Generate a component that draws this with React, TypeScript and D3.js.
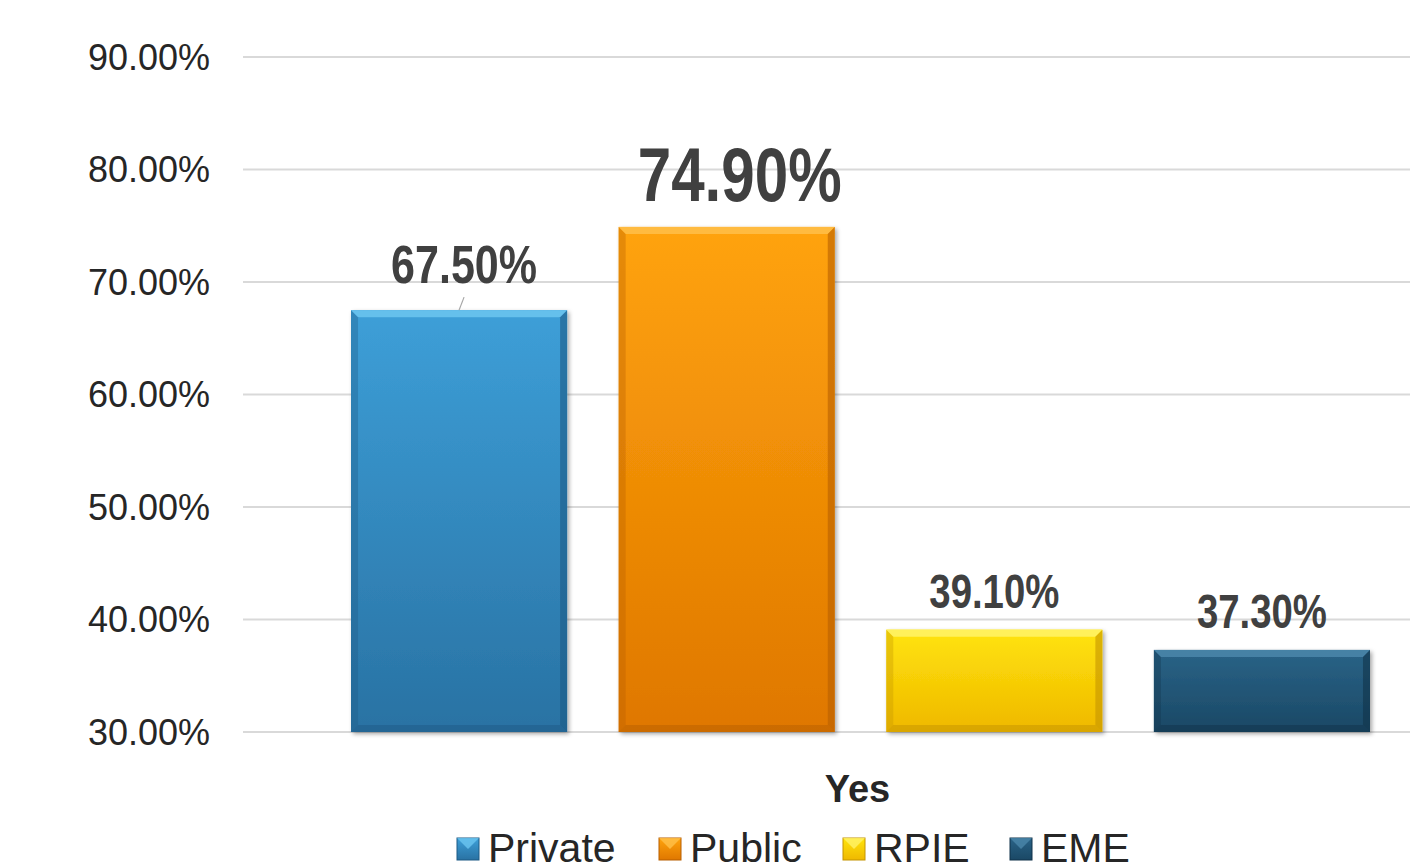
import React from "react";
import * as d3 from "d3";

const categories = ["Yes"];
const seriesNames = ["Private", "Public", "RPIE", "EME"];
const seriesValues = [67.5, 74.9, 39.1, 37.3];
const tickValues = [30, 40, 50, 60, 70, 80, 90];

const W = 1410;
const H = 863;

// styling (not data)
const colors = [
  { top: "#3d9fd8", bottom: "#2972a3", light: "#6cc6f0", dark: "#1d5a85" },
  { top: "#ffa30c", bottom: "#df7700", light: "#ffc04a", dark: "#b85f00" },
  { top: "#ffe40c", bottom: "#efb800", light: "#fff36a", dark: "#c49400" },
  { top: "#2a6387", bottom: "#1a4865", light: "#4b87aa", dark: "#10334a" },
];
const labelStyle = [
  { size: 54, width: 146, dx: 5, gap: 27 },
  { size: 76, width: 204, dx: 13, gap: 26 },
  { size: 49, width: 130, dx: 0, gap: 22 },
  { size: 49, width: 130, dx: 0, gap: 22 },
];

export default function App() {
  const y = d3.scaleLinear().domain([30, 90]).range([732, 57]);
  const x0 = d3.scaleBand<string>().domain(categories).range([243, 1478]);
  const x1 = d3
    .scaleBand<string>()
    .domain(seriesNames)
    .range([325.25, 1395.75])
    .paddingInner(0.1925)
    .paddingOuter(0.09625);
  const bw = x1.bandwidth();
  const bevel = 7;

  return (
    <svg
      width={W}
      height={H}
      style={{ position: "absolute", left: 0, top: 0, background: "#fff" }}
      fontFamily="'Liberation Sans', Arial, sans-serif"
    >
      <defs>
        {colors.map((c, i) => (
          <linearGradient key={i} id={`g${i}`} x1="0" y1="0" x2="0" y2="1">
            <stop offset="0" stopColor={c.top} />
            <stop offset="1" stopColor={c.bottom} />
          </linearGradient>
        ))}
        <filter id="shadow" x="-10%" y="-10%" width="120%" height="120%">
          <feDropShadow dx="2" dy="2" stdDeviation="2" floodColor="#000" floodOpacity="0.35" />
        </filter>
      </defs>

      {/* gridlines */}
      {tickValues.map((t) => (
        <line key={t} x1={243} x2={W} y1={y(t)} y2={y(t)} stroke="#d9d9d9" strokeWidth={2} />
      ))}
      {/* y tick labels */}
      {tickValues.map((t) => (
        <text
          key={"l" + t}
          x={210}
          y={y(t)}
          dy="0.36em"
          textAnchor="end"
          fontSize={36}
          fill="#262626"
        >
          {d3.format(".2f")(t) + "%"}
        </text>
      ))}

      {/* bars */}
      {seriesNames.map((s, i) => {
        const bx = x1(s)!;
        const top = y(seriesValues[i]);
        const base = y(30);
        const c = colors[i];
        return (
          <g key={s}>
            <rect x={bx} y={top} width={bw} height={base - top} fill={`url(#g${i})`} filter="url(#shadow)" />
            <polygon
              points={`${bx},${top} ${bx + bw},${top} ${bx + bw - bevel},${top + bevel} ${bx + bevel},${top + bevel}`}
              fill={c.light}
              opacity={0.85}
            />
            <polygon
              points={`${bx},${top} ${bx + bevel},${top + bevel} ${bx + bevel},${base - bevel} ${bx},${base}`}
              fill={c.dark}
              opacity={0.35}
            />
            <polygon
              points={`${bx + bw},${top} ${bx + bw - bevel},${top + bevel} ${bx + bw - bevel},${base - bevel} ${bx + bw},${base}`}
              fill={c.dark}
              opacity={0.6}
            />
            <polygon
              points={`${bx},${base} ${bx + bevel},${base - bevel} ${bx + bw - bevel},${base - bevel} ${bx + bw},${base}`}
              fill={c.dark}
              opacity={0.5}
            />
          </g>
        );
      })}

      {/* leader line for first label */}
      {(() => {
        const cx = x1(seriesNames[0])! + bw / 2;
        const top = y(seriesValues[0]);
        return (
          <line x1={cx + labelStyle[0].dx} y1={top - 13} x2={cx} y2={top} stroke="#a6a6a6" strokeWidth={1.2} />
        );
      })()}

      {/* data labels */}
      {seriesNames.map((s, i) => {
        const ls = labelStyle[i];
        const cx = x1(s)! + bw / 2 + ls.dx;
        return (
          <text
            key={"v" + s}
            x={cx - ls.width / 2}
            y={y(seriesValues[i]) - ls.gap}
            fontSize={ls.size}
            fontWeight="bold"
            fill="#404040"
            textLength={ls.width}
            lengthAdjust="spacingAndGlyphs"
            fontFamily="'Liberation Sans Narrow', 'Liberation Sans', Arial, sans-serif"
          >
            {d3.format(".2f")(seriesValues[i]) + "%"}
          </text>
        );
      })}

      {/* category label */}
      {categories.map((c) => (
        <text
          key={c}
          x={x0(c)! + x0.bandwidth() / 2 - 3}
          y={802}
          textAnchor="middle"
          fontSize={38}
          fontWeight="bold"
          fill="#262626"
        >
          {c}
        </text>
      ))}

      {/* legend */}
      {(() => {
        const itemX = [457, 659, 843, 1010];
        return seriesNames.map((s, i) => {
          const c = colors[i];
          const lx = itemX[i];
          const sz = 22;
          const ty = 838;
          return (
            <g key={"lg" + s}>
              <rect x={lx} y={ty} width={sz} height={sz} fill={`url(#g${i})`} stroke={c.dark} strokeWidth={1} />
              <polygon
                points={`${lx},${ty} ${lx + sz},${ty} ${lx + sz / 2},${ty + sz / 2}`}
                fill={c.light}
                opacity={0.8}
              />
              <text x={lx + 31} y={862} fontSize={41} fill="#262626">
                {s}
              </text>
            </g>
          );
        });
      })()}
    </svg>
  );
}
